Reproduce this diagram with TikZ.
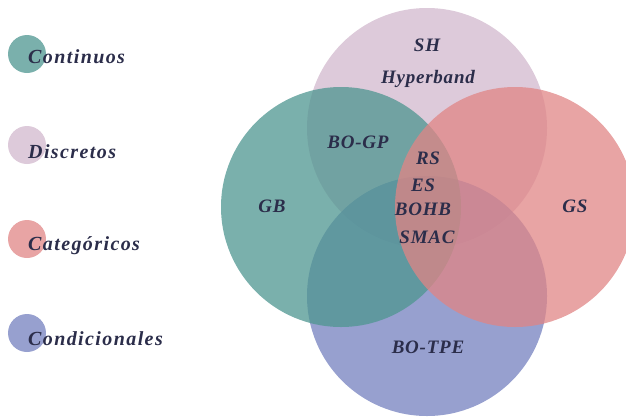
\documentclass[tikz,border=0pt]{standalone}
\usepackage{fontspec}
\setmainfont{Liberation Serif}
\newfontfamily\labfont[LetterSpace=4]{Liberation Serif}
\newfontfamily\legfont[LetterSpace=7]{Liberation Serif}
\definecolor{cdisc}{HTML}{D2B8CD}
\definecolor{ccont}{HTML}{4E9690}
\definecolor{ccat}{HTML}{E08585}
\definecolor{ccond}{HTML}{7480BF}
\definecolor{ctext}{HTML}{2B2D4A}
\tikzset{
  setcircle/.style={circle, minimum size=240pt, inner sep=0pt, fill opacity=0.75, text opacity=1},
  legcircle/.style={circle, minimum size=38pt, inner sep=0pt, fill opacity=0.75},
  lab/.style={font=\labfont\bfseries\itshape\fontsize{19}{22}\selectfont, text=ctext, inner sep=0pt, text height=12.5pt, text depth=0pt},
  leglab/.style={font=\legfont\bfseries\itshape\fontsize{20}{24}\selectfont, text=ctext, inner sep=0pt, anchor=base west}
}
\begin{document}
\begin{tikzpicture}[x=1pt,y=-1pt]
\useasboundingbox (0,0) rectangle (626,418);
\clip (0,0) rectangle (626,418);
% Venn circles
\node[setcircle, fill=cdisc] (disc) at (427,128) {};
\node[setcircle, fill=ccond] (cond) at (427,296) {};
\node[setcircle, fill=ccont] (cont) at (341,207) {};
\node[setcircle, fill=ccat] (cat) at (515,207) {};
% Venn labels
\node[lab] (sh) at (427,45) {SH};
\node[lab] (hyper) at (428,77) {Hyperband};
\node[lab] (bogp) at (358,142) {BO-GP};
\node[lab] (rs) at (428,158) {RS};
\node[lab] (es) at (423,185) {ES};
\node[lab] (bohb) at (423,209) {BOHB};
\node[lab] (smac) at (427,237) {SMAC};
\node[lab] (gb) at (272,206) {GB};
\node[lab] (gs) at (575,206) {GS};
\node[lab] (botpe) at (428,347) {BO-TPE};
% Legend
\node[legcircle, fill=ccont] (lc1) at (27,54) {};
\node[legcircle, fill=cdisc] (lc2) at (27,145) {};
\node[legcircle, fill=ccat] (lc3) at (27,239) {};
\node[legcircle, fill=ccond] (lc4) at (27,333) {};
\node[leglab] (lt1) at (28,63) {Continuos};
\node[leglab] (lt2) at (28,158) {Discretos};
\node[leglab] (lt3) at (28,250) {Categóricos};
\node[leglab] (lt4) at (28,345) {Condicionales};
\end{tikzpicture}
\end{document}
